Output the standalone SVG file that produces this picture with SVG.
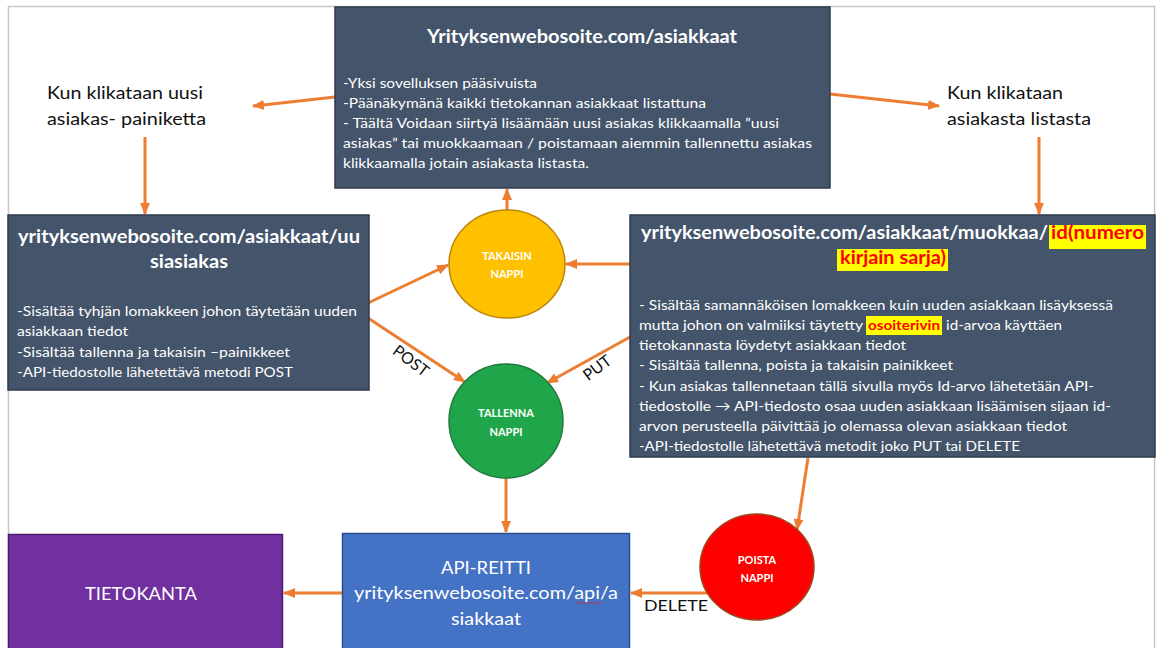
<svg xmlns="http://www.w3.org/2000/svg" width="1156" height="648" viewBox="0 0 1156 648">
<defs>
<style>
text{font-family:Lato,"Liberation Sans",Arial,sans-serif;}
.box{fill:#44546A;stroke:#2E3B4E;stroke-width:1.5;}
.t{fill:#ffffff;font-size:18px;font-weight:bold;}
.b{fill:#ffffff;font-size:14px;}
.lbl{fill:#111111;font-size:18px;}
.ml{fill:#111111;font-size:16px;}
.ct{fill:#ffffff;font-size:11px;font-weight:bold;text-anchor:middle;}
.hl{fill:#FFFF00;}
.red{fill:#FF0000;}
.con{stroke:#ED7D31;stroke-width:3;fill:none;marker-end:url(#ah);}
</style>
<marker id="ah" markerWidth="12" markerHeight="10" refX="11" refY="5" orient="auto" markerUnits="userSpaceOnUse">
<path d="M0,0 L12,5 L0,10 Z" fill="#ED7D31"/>
</marker>
</defs>
<rect x="0" y="0" width="1156" height="648" fill="#ffffff"/>
<path d="M8.5,648 V6.5 H1154.5 V648" fill="none" stroke="#c8c8c8" stroke-width="1.5"/>

<g id="connectors">
<line class="con" x1="335" y1="97" x2="253" y2="106"/>
<line class="con" x1="145" y1="137" x2="145" y2="214"/>
<line class="con" x1="830" y1="94" x2="939" y2="106"/>
<line class="con" x1="1039" y1="137" x2="1039" y2="214"/>
<line class="con" x1="507" y1="210" x2="507" y2="189"/>
<line class="con" x1="630" y1="264" x2="566" y2="264"/>
<line class="con" x1="368" y1="303" x2="448" y2="265"/>
<line class="con" x1="368" y1="318" x2="465" y2="382"/>
<line class="con" x1="630" y1="337" x2="547" y2="383"/>
<line class="con" x1="506" y1="478" x2="506" y2="532"/>
<line class="con" x1="808" y1="458" x2="797" y2="530"/>
<line class="con" x1="707" y1="593" x2="631" y2="593"/>
<line class="con" x1="342" y1="593" x2="284" y2="593"/>
<text class="ml" transform="translate(410,362) rotate(37)" text-anchor="middle" dominant-baseline="middle">POST</text>
<text class="ml" transform="translate(598,369) rotate(-37)" text-anchor="middle" dominant-baseline="middle">PUT</text>
<text class="ml" x="644" y="611" textLength="64" lengthAdjust="spacingAndGlyphs">DELETE</text>
</g>

<g id="asiakkaat">
<rect class="box" x="335" y="7" width="495" height="181"/>
<text class="t" x="427" y="43" textLength="310" lengthAdjust="spacingAndGlyphs">Yrityksenwebosoite.com/asiakkaat</text>
<text class="b" x="343" y="88" textLength="194" lengthAdjust="spacingAndGlyphs">-Yksi sovelluksen pääsivuista</text>
<text class="b" x="343" y="108" textLength="363" lengthAdjust="spacingAndGlyphs">-Päänäkymänä kaikki tietokannan asiakkaat listattuna</text>
<text class="b" x="343" y="128" textLength="436" lengthAdjust="spacingAndGlyphs">- Täältä Voidaan siirtyä lisäämään uusi asiakas klikkaamalla ”uusi</text>
<text class="b" x="343" y="148" textLength="469" lengthAdjust="spacingAndGlyphs">asiakas” tai muokkaamaan / poistamaan aiemmin tallennettu asiakas</text>
<text class="b" x="343" y="168" textLength="246" lengthAdjust="spacingAndGlyphs">klikkaamalla jotain asiakasta listasta.</text>
</g>

<g id="label-uusi">
<text class="lbl" x="47" y="99" textLength="156" lengthAdjust="spacingAndGlyphs">Kun klikataan uusi</text>
<text class="lbl" x="47" y="125" textLength="159" lengthAdjust="spacingAndGlyphs">asiakas- painiketta</text>
</g>

<g id="label-lista">
<text class="lbl" x="947" y="99" textLength="116" lengthAdjust="spacingAndGlyphs">Kun klikataan</text>
<text class="lbl" x="947" y="125" textLength="144" lengthAdjust="spacingAndGlyphs">asiakasta listasta</text>
</g>

<g id="uusiasiakas">
<rect class="box" x="8" y="215" width="361" height="175"/>
<text class="t" x="18" y="243" textLength="342" lengthAdjust="spacingAndGlyphs">yrityksenwebosoite.com/asiakkaat/uu</text>
<text class="t" x="150" y="268" textLength="78" lengthAdjust="spacingAndGlyphs">siasiakas</text>
<text class="b" x="17" y="316" textLength="340" lengthAdjust="spacingAndGlyphs">-Sisältää tyhjän lomakkeen johon täytetään uuden</text>
<text class="b" x="17" y="336" textLength="111" lengthAdjust="spacingAndGlyphs">asiakkaan tiedot</text>
<text class="b" x="17" y="357" textLength="273" lengthAdjust="spacingAndGlyphs">-Sisältää tallenna ja  takaisin –painikkeet</text>
<text class="b" x="17" y="377" textLength="276" lengthAdjust="spacingAndGlyphs">-API-tiedostolle lähetettävä metodi POST</text>
</g>

<g id="muokkaa">
<rect class="box" x="630" y="215" width="525" height="242"/>
<rect class="hl" x="1049" y="225" width="97" height="24"/>
<rect class="hl" x="837" y="249" width="111" height="22"/>
<text class="t" x="641" y="239" textLength="407" lengthAdjust="spacingAndGlyphs">yrityksenwebosoite.com/asiakkaat/muokkaa/</text>
<text class="t red" x="1051" y="239" textLength="93" lengthAdjust="spacingAndGlyphs">id(numero</text>
<text class="t red" x="840" y="264" textLength="106" lengthAdjust="spacingAndGlyphs">kirjain sarja)</text>
<text class="b" x="639" y="310" textLength="474" lengthAdjust="spacingAndGlyphs">- Sisältää samannäköisen lomakkeen kuin uuden asiakkaan lisäyksessä</text>
<text class="b" x="639" y="330" textLength="224" lengthAdjust="spacingAndGlyphs">mutta johon on valmiiksi täytetty</text>
<rect class="hl" x="866" y="316" width="76" height="19"/>
<text class="b red" x="868" y="330" font-weight="bold" textLength="72" lengthAdjust="spacingAndGlyphs">osoiterivin</text>
<text class="b" x="946" y="330" textLength="116" lengthAdjust="spacingAndGlyphs">id-arvoa käyttäen</text>
<text class="b" x="639" y="350" textLength="267" lengthAdjust="spacingAndGlyphs">tietokannasta löydetyt asiakkaan tiedot</text>
<text class="b" x="639" y="370" textLength="314" lengthAdjust="spacingAndGlyphs">- Sisältää tallenna, poista ja takaisin painikkeet</text>
<text class="b" x="639" y="391" textLength="455" lengthAdjust="spacingAndGlyphs">- Kun asiakas tallennetaan tällä sivulla myös Id-arvo lähetetään API-</text>
<text class="b" x="639" y="411" textLength="472" lengthAdjust="spacingAndGlyphs">tiedostolle → API-tiedosto osaa uuden asiakkaan lisäämisen sijaan id-</text>
<text class="b" x="639" y="431" textLength="428" lengthAdjust="spacingAndGlyphs">arvon perusteella päivittää jo olemassa olevan asiakkaan tiedot</text>
<text class="b" x="639" y="451" textLength="381" lengthAdjust="spacingAndGlyphs">-API-tiedostolle lähetettävä metodit joko PUT tai DELETE</text>
</g>

<g id="takaisin">
<ellipse cx="507" cy="264" rx="58" ry="54" fill="#FFC000" stroke="#B8860B" stroke-width="1.5"/>
<text class="ct" x="507" y="260">TAKAISIN</text>
<text class="ct" x="507" y="278">NAPPI</text>
</g>

<g id="tallenna">
<ellipse cx="506" cy="421" rx="57" ry="57" fill="#1FA64A" stroke="#217a3c" stroke-width="1.5"/>
<text class="ct" x="506" y="417">TALLENNA</text>
<text class="ct" x="506" y="436">NAPPI</text>
</g>

<g id="poista">
<ellipse cx="757" cy="567" rx="57" ry="53" fill="#FF0000" stroke="#9A4A1E" stroke-width="1.5"/>
<text class="ct" x="757" y="564">POISTA</text>
<text class="ct" x="757" y="582">NAPPI</text>
</g>

<g id="api">
<rect x="342.5" y="533.5" width="287" height="120" fill="#4472C4" stroke="#2F4F8A" stroke-width="1.5"/>
<text fill="#ffffff" font-size="18" x="486" y="574" text-anchor="middle" textLength="90" lengthAdjust="spacingAndGlyphs">API-REITTI</text>
<text fill="#ffffff" font-size="18" x="486" y="599" text-anchor="middle" textLength="264" lengthAdjust="spacingAndGlyphs">yrityksenwebosoite.com/api/a</text>
<text fill="#ffffff" font-size="18" x="486" y="625" text-anchor="middle" textLength="70" lengthAdjust="spacingAndGlyphs">siakkaat</text>
<path d="M576,603 q1.5,-1.5 3,0 t3,0 t3,0 t3,0 t3,0 t3,0 t3,0 t3,0 t3,0" fill="none" stroke="#d03030" stroke-width="0.8"/>
</g>

<g id="tietokanta">
<rect x="8.5" y="534.5" width="274" height="120" fill="#7030A0" stroke="#4B1F6E" stroke-width="1.5"/>
<text fill="#ffffff" font-size="18" x="141" y="600" text-anchor="middle" textLength="112" lengthAdjust="spacingAndGlyphs">TIETOKANTA</text>
</g>
</svg>
